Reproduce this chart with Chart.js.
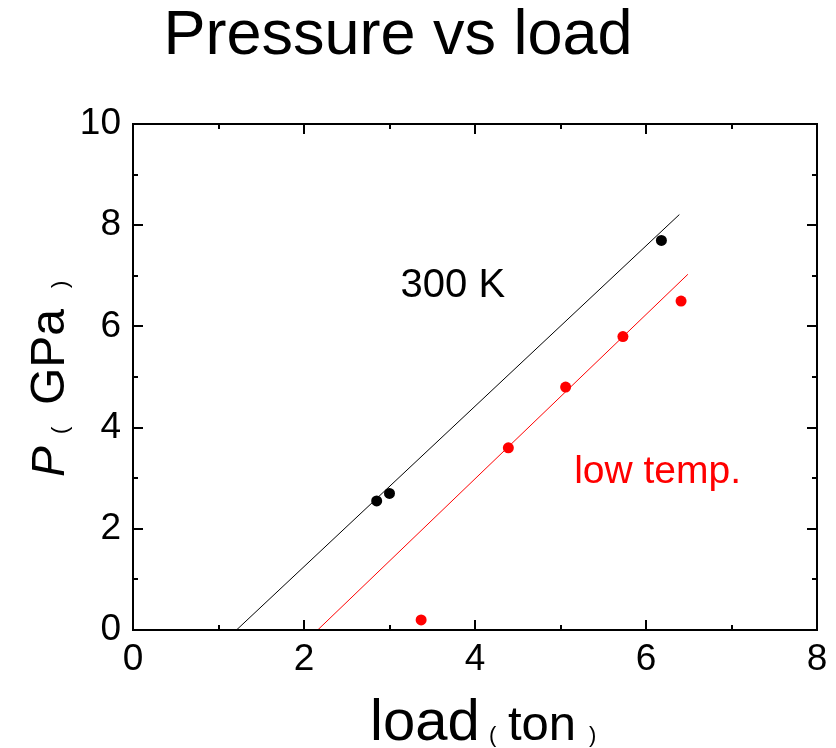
<!DOCTYPE html>
<html>
<head>
<meta charset="utf-8">
<script src="https://cdn.jsdelivr.net/npm/chart.js@4/dist/chart.umd.min.js"></script>
<style>
  html, body { margin: 0; padding: 0; background: #fff; }
  #wrap { width: 836px; height: 748px; }
</style>
</head>
<body>
<div id="wrap"><canvas id="chart"></canvas></div>
<script>
// measured points (load in ton, P in GPa)
const blackLoad = [2.85, 3.0, 6.18];
const blackP = [2.55, 2.7, 7.7];
const redLoad = [3.37, 4.39, 5.06, 5.73, 6.41];
const redP = [0.2, 3.6, 4.8, 5.8, 6.5];

// linear fit lines (end points)
const fitBlackLoad = [1.21, 6.39];
const fitBlackP = [0, 8.21];
const fitRedLoad = [2.16, 6.49];
const fitRedP = [0, 7.03];

const xTicks = [0, 2, 4, 6, 8];
const yTicks = [0, 2, 4, 6, 8, 10];

const FONT = '"Liberation Sans", Arial, sans-serif';

function pts(xs, ys) {
    return xs.map((x, i) => ({ x: x, y: ys[i] }));
}

// frame, inward ticks on all sides, title, axis labels and notes
const decor = {
    id: 'decor',
    afterDraw(chart) {
        const ctx = chart.ctx;
        const a = chart.chartArea;
        const xs = chart.scales.x;
        const ys = chart.scales.y;
        ctx.save();
        ctx.strokeStyle = '#000';
        ctx.lineWidth = 2;
        ctx.strokeRect(a.left, a.top, a.right - a.left, a.bottom - a.top);

        // x ticks (major at even, minor at odd)
        for (let v = 0; v <= 8; v++) {
            const px = Math.round(xs.getPixelForValue(v));
            const len = v % 2 === 0 ? 10 : 5;
            ctx.beginPath();
            ctx.moveTo(px, a.bottom); ctx.lineTo(px, a.bottom - len);
            ctx.moveTo(px, a.top); ctx.lineTo(px, a.top + len);
            ctx.stroke();
        }
        for (let v = 0; v <= 10; v++) {
            const py = Math.round(ys.getPixelForValue(v));
            const len = v % 2 === 0 ? 10 : 5;
            ctx.beginPath();
            ctx.moveTo(a.left, py); ctx.lineTo(a.left + len, py);
            ctx.moveTo(a.right, py); ctx.lineTo(a.right - len, py);
            ctx.stroke();
        }

        ctx.fillStyle = '#000';
        ctx.textBaseline = 'alphabetic';

        // title
        ctx.font = '63px ' + FONT;
        ctx.textAlign = 'center';
        ctx.fillText('Pressure vs load', 398, 54);

        // x axis label
        ctx.textAlign = 'left';
        ctx.font = '58px ' + FONT;
        ctx.fillText('load', 370, 740);
        ctx.font = '22px ' + FONT;
        ctx.fillText('(', 489, 742);
        ctx.font = '49px ' + FONT;
        ctx.fillText('ton', 508, 740);
        ctx.font = '22px ' + FONT;
        ctx.fillText(')', 589, 742);

        // y axis label
        ctx.save();
        ctx.translate(64, 477);
        ctx.rotate(-Math.PI / 2);
        ctx.font = 'italic 46px ' + FONT;
        ctx.fillText('P', 0, 0);
        ctx.font = '22px ' + FONT;
        ctx.fillText('(', 43, 3);
        ctx.font = '48px ' + FONT;
        ctx.fillText('GPa', 72, 0);
        ctx.font = '22px ' + FONT;
        ctx.fillText(')', 189, 3);
        ctx.restore();

        // notes
        ctx.font = '40px ' + FONT;
        ctx.fillStyle = '#000';
        ctx.fillText('300 K', xs.getPixelForValue(3.13), ys.getPixelForValue(6.58));
        ctx.font = '39px ' + FONT;
        ctx.fillStyle = '#ff0000';
        ctx.fillText('low temp.', xs.getPixelForValue(5.16), ys.getPixelForValue(2.90));
        ctx.restore();
    }
};

const ctx = document.getElementById('chart').getContext('2d');
new Chart(ctx, {
    type: 'scatter',
    data: {
        datasets: [
            {
                label: 'fit 300 K',
                data: pts(fitBlackLoad, fitBlackP),
                showLine: true,
                borderColor: '#000',
                borderWidth: 1,
                pointRadius: 0
            },
            {
                label: 'fit low temp.',
                data: pts(fitRedLoad, fitRedP),
                showLine: true,
                borderColor: '#ff0000',
                borderWidth: 1,
                pointRadius: 0
            },
            {
                label: '300 K',
                data: pts(blackLoad, blackP),
                backgroundColor: '#000',
                borderWidth: 0,
                pointRadius: 5.5
            },
            {
                label: 'low temp.',
                data: pts(redLoad, redP),
                backgroundColor: '#ff0000',
                borderWidth: 0,
                pointRadius: 5.5
            }
        ]
    },
    options: {
        responsive: true,
        maintainAspectRatio: false,
        animation: false,
        layout: { padding: { top: 124, right: 19, left: 0, bottom: 0 } },
        plugins: {
            legend: { display: false },
            tooltip: { enabled: false }
        },
        scales: {
            x: {
                type: 'linear',
                min: 0,
                max: 8,
                afterFit(scale) { scale.height = 118; },
                afterBuildTicks(scale) { scale.ticks = xTicks.map(v => ({ value: v })); },
                grid: { display: false, drawTicks: false },
                border: { display: false },
                ticks: { color: '#000', padding: 8, font: { family: FONT, size: 37 } }
            },
            y: {
                type: 'linear',
                min: 0,
                max: 10,
                afterFit(scale) { scale.width = 133; },
                afterBuildTicks(scale) { scale.ticks = yTicks.map(v => ({ value: v })); },
                grid: { display: false, drawTicks: false },
                border: { display: false },
                ticks: { color: '#000', padding: 12, font: { family: FONT, size: 37 } }
            }
        }
    },
    plugins: [decor]
});
</script>
</body>
</html>
